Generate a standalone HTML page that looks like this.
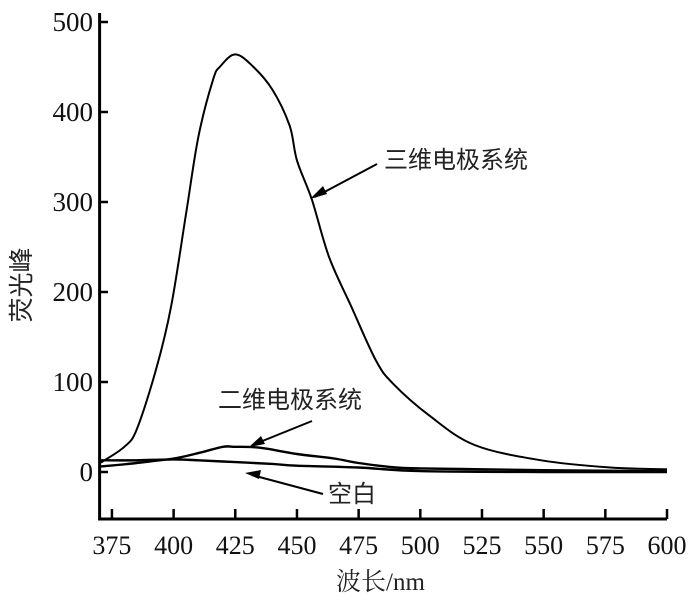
<!DOCTYPE html>
<html><head><meta charset="utf-8"><style>
html,body{margin:0;padding:0;background:#fff;}
svg{display:block;font-family:"Liberation Serif","Noto Serif CJK SC",serif;}
</style></head><body>
<svg id="chart" width="700" height="601" viewBox="0 0 700 601">
<g id="axes"></g>
<g id="series"></g>
<g id="annotations">
<text x="384" y="168" font-size="24" fill="#222" font-family="'Liberation Sans','Noto Sans CJK SC',sans-serif">三维电极系统</text>
<line x1="377" y1="164" x2="315" y2="197" stroke="#000" stroke-width="2"/>
<polygon points="310,199 323,186 327,194" fill="#000"/>
<text x="218" y="408" font-size="24" fill="#222" font-family="'Liberation Sans','Noto Sans CJK SC',sans-serif">二维电极系统</text>
<line x1="312" y1="421" x2="255" y2="444" stroke="#000" stroke-width="2"/>
<polygon points="249,447 261,436 265,444" fill="#000"/>
<text x="328" y="502" font-size="24" fill="#222" font-family="'Liberation Sans','Noto Sans CJK SC',sans-serif">空白</text>
<line x1="323" y1="494" x2="252" y2="475" stroke="#000" stroke-width="2"/>
<polygon points="245,473 261,470 259,479" fill="#000"/>
</g>
<text x="336" y="590" font-size="25" fill="#222" font-family="'Liberation Serif','Noto Serif CJK SC',serif">波长/nm</text>
<text transform="translate(30,285) rotate(-90)" text-anchor="middle" font-size="25" fill="#222" font-family="'Liberation Sans','Noto Sans CJK SC',sans-serif">荧光峰</text>
</svg>
<script>
const xTicks=[375,400,425,450,475,500,525,550,575,600];
const yTicks=[0,100,200,300,400,500];
const wl3d=[370,372,380,385,393,399,405,410,416,419,425,432,440,447,450,456,463,472,482,489,504,522,549,577,600];
const val3d=[10,13,28,47,115,184,286,372,436,451,464,451,425,385,346,303,239,184,124,98,62,30,13,5,3];
const wl2d=[370,385,400,410,420,425,435,450,465,475,490,500,525,550,600];
const val2d=[6,10,15,21,28,28,27,20,15,10,5,4,3,2,1];
const wlBlank=[370,385,400,410,425,440,450,475,500,550,600];
const valBlank=[13,13,14,13,11,9,7,5,1,0,0];
const NS='http://www.w3.org/2000/svg';
const X=v=>99.6+(v-370)*2.467;
const Y=v=>472-v*0.9;
const axes=document.getElementById('axes');
function mk(tag,attrs,parent){const e=document.createElementNS(NS,tag);for(const k in attrs)e.setAttribute(k,attrs[k]);parent.appendChild(e);return e;}
let e=mk('path',{d:`M${X(370)},${Y(510)} V519 H${X(600)}`,fill:'none',stroke:'#000','stroke-width':3},axes);


xTicks.forEach(t=>{
 let l=mk('line',{x1:X(t),x2:X(t),y1:519,y2:509,stroke:'#000','stroke-width':2.5},axes);
 
 
 let tx=mk('text',{x:X(t),y:554,'text-anchor':'middle','font-size':26,fill:'#111'},axes);
 tx.textContent=t;
 
 
});
yTicks.forEach(t=>{
 let l=mk('line',{x1:99,x2:108,y1:Y(t),y2:Y(t),stroke:'#000','stroke-width':2.5},axes);
 
 
 let tx=mk('text',{x:93,y:Y(t)+9,'text-anchor':'end','font-size':27,fill:'#111'},axes);
 tx.textContent=t;
 
 
});
const ser=document.getElementById('series');
function line(wl,v,name,w){
 const pts=wl.map((x,i)=>[X(x),Y(v[i])]);
 let d='M'+pts[0][0].toFixed(1)+','+pts[0][1].toFixed(1);
 for(let i=0;i<pts.length-1;i++){
  const p0=pts[Math.max(0,i-1)],p1=pts[i],p2=pts[i+1],p3=pts[Math.min(pts.length-1,i+2)];
  const c1=[p1[0]+(p2[0]-p0[0])/6,p1[1]+(p2[1]-p0[1])/6];
  const c2=[p2[0]-(p3[0]-p1[0])/6,p2[1]-(p3[1]-p1[1])/6];
  d+=` C${c1[0].toFixed(1)},${c1[1].toFixed(1)} ${c2[0].toFixed(1)},${c2[1].toFixed(1)} ${p2[0].toFixed(1)},${p2[1].toFixed(1)}`;
 }
 const p=mk('path',{d:d,fill:'none',stroke:'#000','stroke-width':w,'stroke-linejoin':'round'},ser);
 
 
}
line(wl3d,val3d,'series-3d-electrode',2);
line(wl2d,val2d,'series-2d-electrode',2.4);
line(wlBlank,valBlank,'series-blank',2.4);
</script>
</body></html>
